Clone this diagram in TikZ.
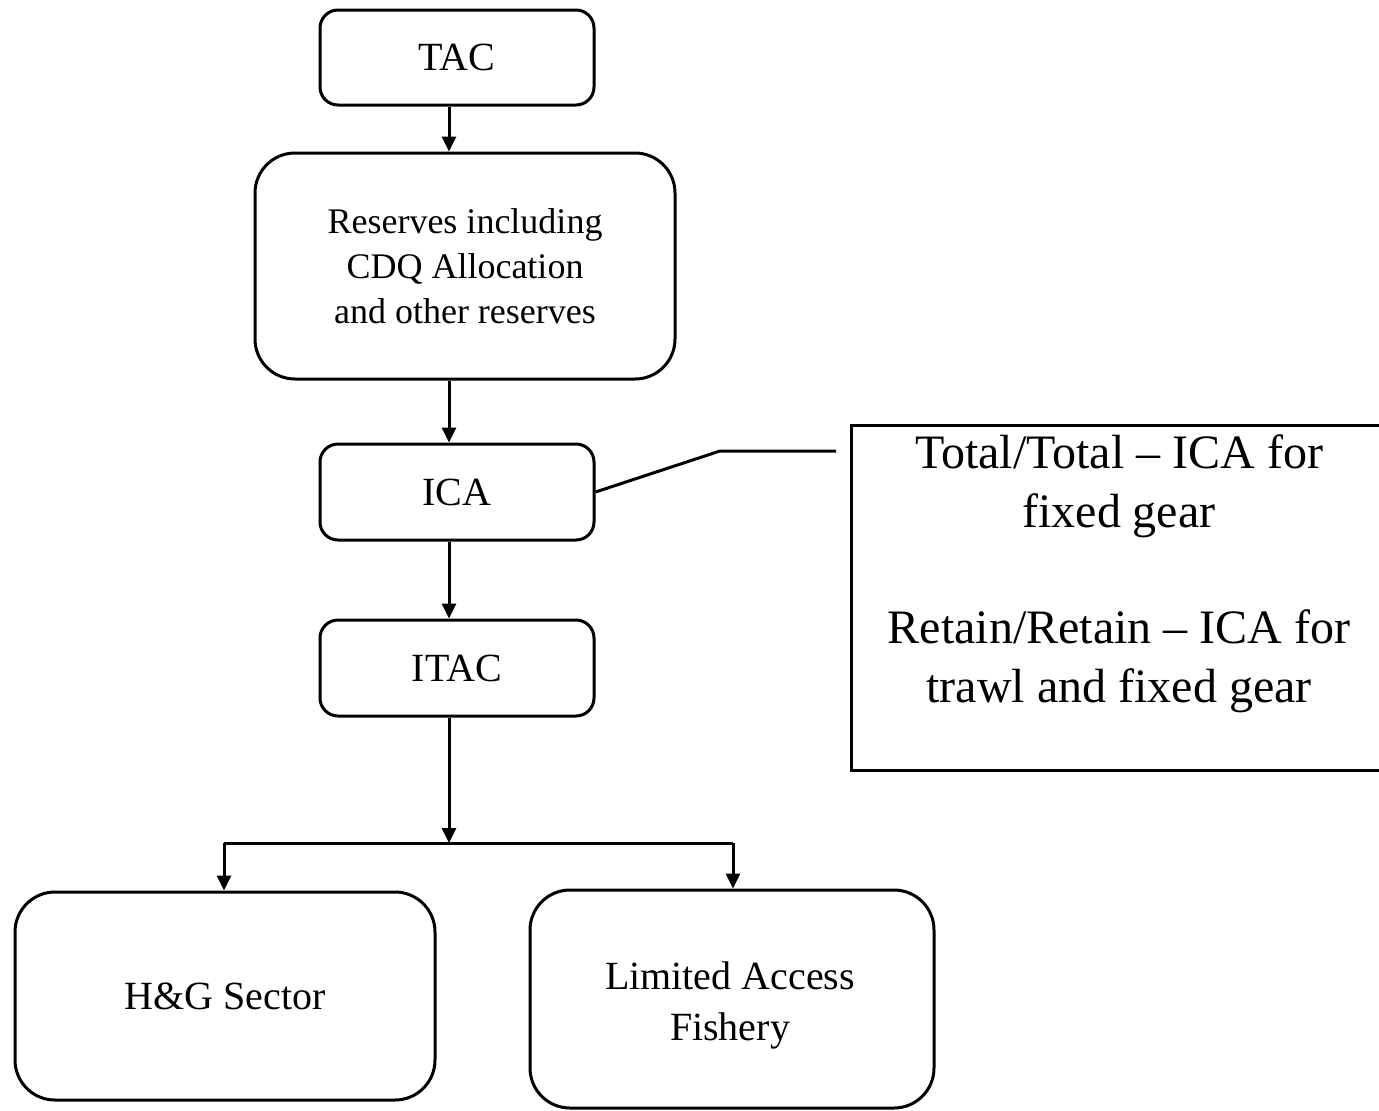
\documentclass[tikz,border=0pt]{standalone}
\usepackage{fontspec}
\setmainfont{Liberation Serif}
\usetikzlibrary{arrows.meta}
\tikzset{
  flowbox/.style={draw, line width=3pt, rounded corners=#1, inner sep=0pt, align=center},
  flowbox/.default=18pt,
  conn/.style={line width=3pt},
  arr/.style={line width=3pt, -{Triangle[length=15pt,width=14pt]}},
  bigtxt/.style={font=\fontsize{40}{48}\selectfont},
  midtxt/.style={font=\fontsize{36}{45}\selectfont},
  notetxt/.style={font=\fontsize{48}{59}\selectfont, align=center, inner sep=0pt}
}
\begin{document}
\begin{tikzpicture}[x=1pt,y=-1pt]
\useasboundingbox (0,0) rectangle (1379,1111);
\fill[white] (0,0) rectangle (1379,1111);

\node[flowbox, bigtxt, minimum width=274pt, minimum height=95pt] (tac) at (457,57.5) {TAC};
\node[flowbox=40pt, midtxt, minimum width=420pt, minimum height=226pt] (res) at (465,266)
  {Reserves including\\CDQ Allocation\\and other reserves};
\node[flowbox, bigtxt, minimum width=274pt, minimum height=96pt] (ica) at (457,492) {ICA};
\node[flowbox, bigtxt, minimum width=274pt, minimum height=96pt] (itac) at (457,668) {ITAC};
\node[flowbox=40pt, bigtxt, minimum width=420pt, minimum height=208pt] (hg) at (225,996) {H\&G Sector};
\node[draw, line width=3pt, rounded corners=40pt, minimum width=404pt, minimum height=218pt, inner sep=0pt] (laf) at (732,999) {};
\node[font=\fontsize{40}{51}\selectfont, align=center, inner sep=0pt] (laftext) at (730,1005)
  {Limited Access\\Fishery};

\node[draw, line width=3pt, minimum width=540pt, minimum height=345pt, inner sep=0pt] (note) at (1121,597.5) {};
\node[notetxt] (notetext) at (1119,574)
  {Total/Total -- ICA for\\fixed gear\\[57pt]Retain/Retain -- ICA for\\trawl and fixed gear};

% vertical flow
\draw[arr] (tac.south -| 449,0) -- (res.north -| 449,0);
\draw[arr] (res.south -| 449,0) -- (ica.north -| 449,0);
\draw[arr] (ica.south -| 449,0) -- (itac.north -| 449,0);
\coordinate (split) at (449,843);
\draw[arr] (itac.south -| 449,0) -- (split);
\draw[conn] (224,843) -- (733,843);
\draw[arr] (224,843) -- (hg.north -| 224,0);
\draw[arr] (733,843) -- (laf.north -| 733,0);

% callout connector
\coordinate (bend) at (720,451);
\coordinate (cend) at (836,451);
\draw[conn] (ica.east) -- (bend) -- (cend);
\end{tikzpicture}
\end{document}
